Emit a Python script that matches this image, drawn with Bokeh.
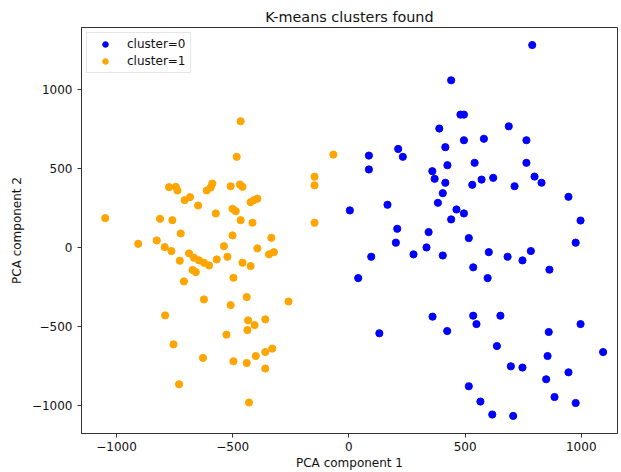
from bokeh.plotting import figure
from bokeh.models import Range1d, FixedTicker, Legend, LegendItem
from bokeh.embed import file_html
from bokeh.resources import INLINE

# cluster=0 (blue)
c0_x = [789, 440, 480, 495, 389, 688, 495, 581, 764, 415, 212, 232, 86, 86, 424, 541, 764,
        359, 369, 415, 531, 571, 621, 713, 799, 829, 404, 945, 383, 166, 4, 463, 495, 440,
        997, 208, 343, 516, 202, 976, 96, 278, 334, 404, 602, 683, 747, 783, 535, 863, 40,
        597, 360, 535, 652, 549, 997, 131, 423, 860, 637, 1094, 855, 697, 747, 945, 849,
        516, 566, 885, 976, 617, 707]
c0_y = [1282, 1059, 842, 842, 754, 768, 680, 689, 680, 636, 625, 575, 583, 495, 522, 537, 537,
        484, 436, 411, 398, 431, 442, 389, 450, 411, 345, 322, 284, 272, 236, 242, 217, 179,
        172, 120, 99, 61, 32, 32, -57, -42, 2, -49, -28, -57, -80, -21, -124, -139, -192,
        -192, -436, -430, -430, -483, -483, -541, -527, -533, -622, -660, -685, -750, -758,
        -788, -832, -876, -973, -944, -982, -1055, -1064]

# cluster=1 (orange)
c1_x = [-466, -483, -774, -745, -738, -588, -612, -595, -509, -469, -458, -707, -684, -649,
        -501, -487, -423, -409, -394, -1049, -813, -760, -573, -466, -415, -724, -501, -334,
        -907, -827, -793, -764, -538, -394, -688, -667, -645, -624, -602, -728, -569, -523,
        -458, -423, -344, -323, -673, -659, -497, -710, -624, -509, -440, -791, -434, -406,
        -360, -437, -527, -755, -330, -360, -401, -628, -497, -440, -360, -731, -430, -67,
        -148, -148, -148, -260]
c1_y = [800, 575, 383, 385, 362, 406, 362, 381, 389, 400, 385, 301, 320, 267, 246, 231, 288,
        301, 310, 187, 183, 174, 217, 174, 158, 90, 78, 63, 25, 46, 4, -21, 10, -4, -36, -63,
        -80, -95, -112, -82, -74, -57, -95, -116, -42, -28, -141, -154, -190, -213, -327,
        -363, -312, -428, -459, -489, -453, -521, -550, -611, -638, -660, -685, -697, -718,
        -729, -764, -864, -979, 589, 449, 395, 158, -340]

x_ticks = [-1000, -500, 0, 500, 1000]
y_ticks = [-1000, -500, 0, 500, 1000]
x_tick_labels = ["\u22121000", "\u2212500", "0", "500", "1000"]
y_tick_labels = ["\u22121000", "\u2212500", "0", "500", "1000"]

FONT = "DejaVu Sans"
TXT = "#111111"

p = figure(width=621, height=472, output_backend="svg", toolbar_location=None,
           x_range=Range1d(-1151, 1156), y_range=Range1d(-1175, 1393),
           min_border_left=81, min_border_right=4, min_border_top=27, min_border_bottom=38,
           title="K-means clusters found")
p.background_fill_color = "white"
p.border_fill_color = "white"
p.outline_line_color = "#333333"
p.outline_line_width = 1
p.grid.visible = False

p.title.align = "center"
p.title.text_font = FONT
p.title.text_font_size = "14.4px"
p.title.text_font_style = "normal"
p.title.text_color = TXT
p.title.offset = 0
p.title.standoff = 5

r0 = p.scatter(c0_x, c0_y, size=7.2, color="#0000ff", line_color="#0000ff")
r1 = p.scatter(c1_x, c1_y, size=7.2, color="#ffa500", line_color="#ffa500")

for ax, ticks, labels in ((p.xaxis, x_ticks, x_tick_labels), (p.yaxis, y_ticks, y_tick_labels)):
    ax.ticker = FixedTicker(ticks=ticks)
    ax.major_label_overrides = {t: l for t, l in zip(ticks, labels)}
    ax.minor_tick_line_color = None
    ax.major_tick_out = 4
    ax.major_tick_in = 0
    ax.axis_line_color = "#333333"
    ax.major_tick_line_color = "#333333"
    ax.major_label_text_font = FONT
    ax.major_label_text_font_size = "12px"
    ax.major_label_text_color = TXT
    ax.axis_label_text_font = FONT
    ax.axis_label_text_font_size = "12px"
    ax.axis_label_text_font_style = "normal"
    ax.axis_label_text_color = TXT

p.xaxis.axis_label = "PCA component 1"
p.yaxis.axis_label = "PCA component 2"
p.xaxis.major_label_standoff = 4
p.xaxis.axis_label_standoff = 2
p.yaxis.major_label_standoff = 5
p.yaxis.axis_label_standoff = 5

legend = Legend(items=[LegendItem(label="cluster=0", renderers=[r0]),
                       LegendItem(label="cluster=1", renderers=[r1])],
                location="top_left")
legend.label_text_font = FONT
legend.label_text_font_size = "12px"
legend.label_text_color = TXT
legend.margin = 5
legend.padding = 4
legend.spacing = 3
legend.glyph_width = 28
legend.glyph_height = 14
legend.label_height = 14
legend.label_standoff = 8
legend.border_line_color = "#cccccc"
legend.border_line_width = 1
legend.background_fill_alpha = 0.9
p.add_layout(legend)

open("out.html", "w").write(file_html(p, INLINE))
